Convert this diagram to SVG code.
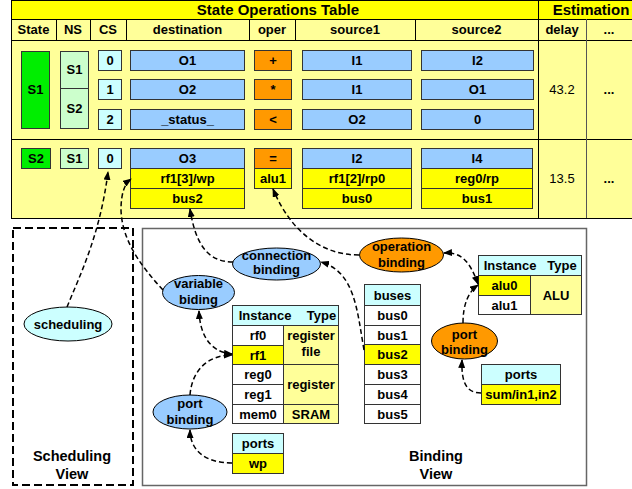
<svg xmlns="http://www.w3.org/2000/svg" width="632" height="489" viewBox="0 0 632 489">
<defs>
<marker id="arr" markerWidth="9" markerHeight="7" refX="8" refY="3.5" orient="auto-start-reverse" markerUnits="userSpaceOnUse">
<path d="M0,0 L9,3.5 L0,7 z" fill="#000"/>
</marker>
<style>
text{font-family:"Liberation Sans",Arial,sans-serif;font-size:13px;font-weight:bold;fill:#000;text-anchor:middle}
.t{font-size:15px}
.n{font-weight:normal}
.v{font-size:14.5px}
.c{stroke:#333;stroke-width:1}
.blue{fill:#99CCFF}
.or{fill:#FF9900}
.yel{fill:#FFFF00}
.ly{fill:#FFFF99}
.cy{fill:#CCFFFF}
.lg{fill:#CCFFCC}
.gr{fill:#00EE00}
.wh{fill:#FFFFFF}
.grid{stroke:#000;stroke-width:1;fill:none}
.conn path{fill:none;stroke:#000;stroke-width:1.5;stroke-dasharray:5,3;marker-end:url(#arr)}
</style>
</defs>
<rect width="632" height="489" fill="#fff"/>

<!-- State operations table -->
<g id="table">
<rect x="11.5" y="0.5" width="640" height="218" fill="#FFFF99" stroke="#000"/>
<rect x="11.5" y="0.5" width="640" height="19" fill="#FFFF00" stroke="#000"/>
<line class="grid" x1="11" y1="40.5" x2="632" y2="40.5"/>
<line class="grid" x1="11" y1="139.5" x2="632" y2="139.5"/>
<line class="grid" x1="538.5" y1="0" x2="538.5" y2="218"/>
<line x1="586.5" y1="19" x2="586.5" y2="218" stroke="#555"/>
<g class="grid">
<line x1="56.5" y1="19" x2="56.5" y2="40"/>
<line x1="90.5" y1="19" x2="90.5" y2="40"/>
<line x1="126.5" y1="19" x2="126.5" y2="40"/>
<line x1="249.5" y1="19" x2="249.5" y2="40"/>
<line x1="295.5" y1="19" x2="295.5" y2="40"/>
<line x1="415.5" y1="19" x2="415.5" y2="40"/>
</g>
<text class="t" x="278" y="15">State Operations Table</text>
<text class="t" x="591" y="15">Estimation</text>
<text x="33.5" y="34">State</text>
<text x="73" y="34">NS</text>
<text x="108" y="34">CS</text>
<text x="187.5" y="34">destination</text>
<text x="272" y="34">oper</text>
<text x="355" y="34">source1</text>
<text x="476.5" y="34">source2</text>
<text x="562" y="34">delay</text>
<text x="609" y="34">...</text>
</g>

<g id="state1">
<rect class="c gr" x="21.5" y="51.5" width="28" height="77"/>
<text x="35.5" y="94">S1</text>
<rect class="c lg" x="60.5" y="51.5" width="28" height="37"/>
<text x="74.5" y="74">S1</text>
<rect class="c lg" x="60.5" y="88.5" width="28" height="40"/>
<text x="74.5" y="113">S2</text>
</g>
<g id="row0">
<rect class="c cy" x="98.5" y="50.5" width="23" height="20"/><text x="110" y="65">0</text>
<rect class="c blue" x="130.5" y="50.5" width="114" height="20"/><text x="187.5" y="65">O1</text>
<rect class="c or" x="254.5" y="50.5" width="37" height="20"/><text x="273" y="65">+</text>
<rect class="c blue" x="302.5" y="50.5" width="109" height="20"/><text x="357" y="65">I1</text>
<rect class="c blue" x="421.5" y="50.5" width="112" height="20"/><text x="477.5" y="65">I2</text>
</g>
<g id="row1">
<rect class="c cy" x="98.5" y="79.5" width="23" height="20"/><text x="110" y="94">1</text>
<rect class="c blue" x="130.5" y="79.5" width="114" height="20"/><text x="187.5" y="94">O2</text>
<rect class="c or" x="254.5" y="79.5" width="37" height="20"/><text x="273" y="94">*</text>
<rect class="c blue" x="302.5" y="79.5" width="109" height="20"/><text x="357" y="94">I1</text>
<rect class="c blue" x="421.5" y="79.5" width="112" height="20"/><text x="477.5" y="94">O1</text>
</g>
<g id="row2">
<rect class="c cy" x="98.5" y="109.5" width="23" height="20"/><text x="110" y="124">2</text>
<rect class="c blue" x="130.5" y="109.5" width="114" height="20"/><text x="187.5" y="124">_status_</text>
<rect class="c or" x="254.5" y="109.5" width="37" height="20"/><text x="273" y="124">&lt;</text>
<rect class="c blue" x="302.5" y="109.5" width="109" height="20"/><text x="357" y="124">O2</text>
<rect class="c blue" x="421.5" y="109.5" width="112" height="20"/><text x="477.5" y="124">0</text>
</g>
<g id="est1">
<text class="n" x="562" y="94">43.2</text>
<text x="609" y="94">...</text>
</g>

<g id="state2">
<rect class="c gr" x="21.5" y="148.5" width="29" height="20"/><text x="36" y="163">S2</text>
<rect class="c lg" x="60.5" y="148.5" width="28" height="20"/><text x="74.5" y="163">S1</text>
<rect class="c cy" x="98.5" y="148.5" width="23" height="20"/><text x="110" y="163">0</text>
</g>
<g id="dest2">
<rect class="c blue" x="130.5" y="148.5" width="114" height="20"/><text x="187.5" y="163">O3</text>
<rect class="c yel" x="130.5" y="168.5" width="114" height="20"/><text x="187.5" y="183">rf1[3]/wp</text>
<rect class="c yel" x="130.5" y="188.5" width="114" height="20"/><text x="187.5" y="203">bus2</text>
</g>
<g id="oper2">
<rect class="c or" x="254.5" y="148.5" width="37" height="20"/><text x="273" y="163">=</text>
<rect class="c yel" x="254.5" y="168.5" width="37" height="20"/><text x="273" y="183">alu1</text>
</g>
<g id="src1">
<rect class="c blue" x="302.5" y="148.5" width="109" height="20"/><text x="357" y="163">I2</text>
<rect class="c yel" x="302.5" y="168.5" width="109" height="20"/><text x="357" y="183">rf1[2]/rp0</text>
<rect class="c yel" x="302.5" y="188.5" width="109" height="20"/><text x="357" y="203">bus0</text>
</g>
<g id="src2">
<rect class="c blue" x="421.5" y="148.5" width="111" height="20"/><text x="477" y="163">I4</text>
<rect class="c yel" x="421.5" y="168.5" width="111" height="20"/><text x="477" y="183">reg0/rp</text>
<rect class="c yel" x="421.5" y="188.5" width="111" height="20"/><text x="477" y="203">bus1</text>
</g>
<g id="est2">
<text class="n" x="562" y="183">13.5</text>
<text x="609" y="183">...</text>
</g>

<!-- Views -->
<g id="scheduling-view">
<rect x="13" y="228" width="120" height="257" fill="none" stroke="#000" stroke-width="2" stroke-dasharray="8,4"/>
<text class="v" x="72" y="461">Scheduling</text>
<text class="v" x="72" y="479">View</text>
</g>
<g id="binding-view">
<rect x="142.5" y="228.5" width="444" height="257" fill="none" stroke="#666" stroke-width="1.5"/>
<text class="v" x="436" y="461">Binding</text>
<text class="v" x="436" y="479">View</text>
</g>

<g id="scheduling">
<ellipse cx="68" cy="324" rx="44" ry="17" class="cy" stroke="#000"/>
<text x="68" y="328.5">scheduling</text>
</g>
<g id="variable-biding">
<ellipse cx="198.5" cy="292.5" rx="36" ry="17" class="blue" stroke="#000"/>
<text x="198.5" y="288">variable</text>
<text x="198.5" y="304">biding</text>
</g>
<g id="connection-binding">
<ellipse cx="276.5" cy="264" rx="44" ry="16" class="blue" stroke="#000"/>
<text x="276.5" y="259.5">connection</text>
<text x="276.5" y="273.5">binding</text>
</g>
<g id="operation-binding">
<ellipse cx="401.5" cy="255" rx="42" ry="17" class="or" stroke="#000"/>
<text x="401.5" y="250.5">operation</text>
<text x="401.5" y="267">binding</text>
</g>
<g id="port-binding-right">
<ellipse cx="464.5" cy="341" rx="33" ry="18" class="or" stroke="#000"/>
<text x="464.5" y="338.5">port</text>
<text x="464.5" y="353.5">binding</text>
</g>
<g id="port-binding-left">
<ellipse cx="190" cy="412" rx="37" ry="17" class="blue" stroke="#000"/>
<text x="190" y="407.5">port</text>
<text x="190" y="423.5">binding</text>
</g>

<g id="register-table">
<rect class="c cy" x="232.5" y="305.5" width="106" height="20"/>
<text x="265" y="320">Instance</text><text x="321.5" y="320">Type</text>
<rect class="c wh" x="232.5" y="325.5" width="51" height="20"/><text x="258" y="340">rf0</text>
<rect class="c yel" x="232.5" y="345.5" width="51" height="19"/><text x="258" y="359.5">rf1</text>
<rect class="c wh" x="232.5" y="364.5" width="51" height="20"/><text x="258" y="379">reg0</text>
<rect class="c wh" x="232.5" y="384.5" width="51" height="20"/><text x="258" y="399">reg1</text>
<rect class="c wh" x="232.5" y="404.5" width="51" height="19"/><text x="258" y="418.5">mem0</text>
<rect class="c ly" x="283.5" y="325.5" width="55" height="39"/>
<text x="311" y="339.5">register</text><text x="311" y="356">file</text>
<rect class="c ly" x="283.5" y="364.5" width="55" height="40"/><text x="311" y="388.5">register</text>
<rect class="c ly" x="283.5" y="404.5" width="55" height="19"/><text x="311" y="418.5">SRAM</text>
</g>
<g id="ports-left">
<rect class="c cy" x="232.5" y="433.5" width="51" height="20"/><text x="258" y="448">ports</text>
<rect class="c yel" x="232.5" y="453.5" width="51" height="20"/><text x="258" y="468">wp</text>
</g>
<g id="buses">
<rect class="c cy" x="364.5" y="284.5" width="56" height="21"/><text x="392.5" y="299.5">buses</text>
<rect class="c wh" x="364.5" y="305.5" width="56" height="20"/><text x="392.5" y="320">bus0</text>
<rect class="c wh" x="364.5" y="325.5" width="56" height="19"/><text x="392.5" y="339.5">bus1</text>
<rect class="c yel" x="364.5" y="344.5" width="56" height="20"/><text x="392.5" y="359">bus2</text>
<rect class="c wh" x="364.5" y="364.5" width="56" height="20"/><text x="392.5" y="379">bus3</text>
<rect class="c wh" x="364.5" y="384.5" width="56" height="20"/><text x="392.5" y="399">bus4</text>
<rect class="c wh" x="364.5" y="404.5" width="56" height="19"/><text x="392.5" y="418.5">bus5</text>
</g>
<g id="alu-table">
<rect class="c cy" x="478.5" y="255.5" width="103" height="20"/>
<text x="510" y="270">Instance</text><text x="562" y="270">Type</text>
<rect class="c yel" x="478.5" y="275.5" width="52" height="20"/><text x="504.5" y="290">alu0</text>
<rect class="c wh" x="478.5" y="295.5" width="52" height="19"/><text x="504.5" y="309.5">alu1</text>
<rect class="c ly" x="530.5" y="275.5" width="51" height="39"/><text x="556" y="299.5">ALU</text>
</g>
<g id="ports-right">
<rect class="c cy" x="481.5" y="364.5" width="79" height="20"/><text x="521" y="379">ports</text>
<rect class="c yel" x="481.5" y="384.5" width="79" height="20"/><text x="521" y="399">sum/in1,in2</text>
</g>

<g id="connectors" class="conn">
<path d="M67,307 C80,275 100,235 108,172"/>
<path d="M163,290 C140,265 122,240 121,210 C121,195 124,184 131,179"/>
<path d="M233,262 C205,262 195,240 190,209"/>
<path d="M359,255 C320,255 290,230 273,189"/>
<path d="M364,350 C357,310 355,272 321,262"/>
<path d="M232,354 C210,352 200,335 199,311" style="marker-start:url(#arr)"/>
<path d="M190,395 C192,370 208,355 232,355"/>
<path d="M232,463 C205,463 190,450 190,430"/>
<path d="M478,284 C470,262 462,252 444,253" style="marker-start:url(#arr)"/>
<path d="M463,323 C463,305 468,292 478,285"/>
<path d="M481,393 C468,393 461,385 462,360"/>
</g>
</svg>
